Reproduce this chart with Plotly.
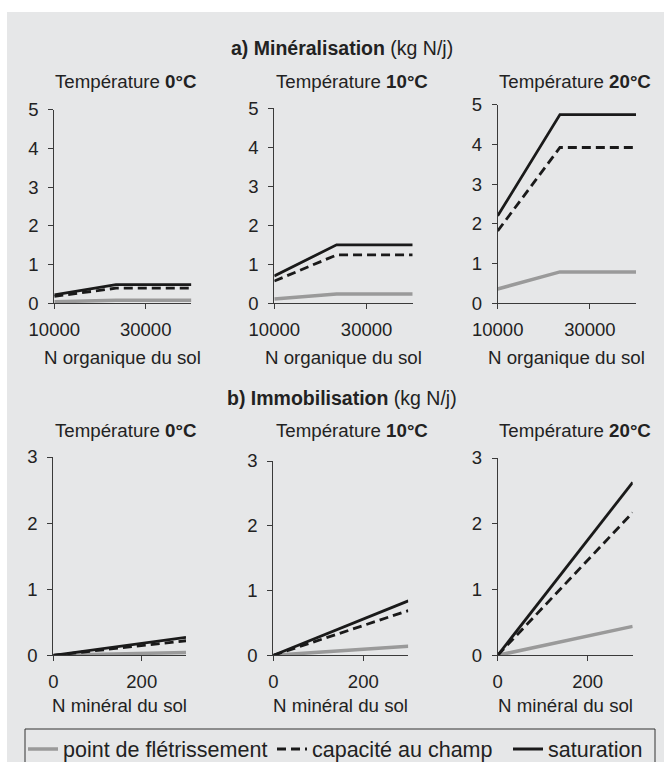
import plotly.graph_objects as go

# ---------------- data ----------------
temps = ["0°C", "10°C", "20°C"]

# a) Minéralisation (kg N/j) vs N organique du sol
x_org = [10000, 23500, 40000]
min_wilt_0 = [0.04, 0.08, 0.08]
min_cap_0 = [0.18, 0.39, 0.39]
min_sat_0 = [0.22, 0.48, 0.48]
min_wilt_10 = [0.11, 0.24, 0.24]
min_cap_10 = [0.57, 1.24, 1.24]
min_sat_10 = [0.70, 1.50, 1.50]
min_wilt_20 = [0.36, 0.79, 0.79]
min_cap_20 = [1.82, 3.92, 3.92]
min_sat_20 = [2.20, 4.75, 4.75]

# b) Immobilisation (kg N/j) vs N minéral du sol
x_min = [0, 300]
imm_wilt_0 = [0, 0.044]
imm_cap_0 = [0, 0.22]
imm_sat_0 = [0, 0.27]
imm_wilt_10 = [0, 0.14]
imm_cap_10 = [0, 0.69]
imm_sat_10 = [0, 0.84]
imm_wilt_20 = [0, 0.44]
imm_cap_20 = [0, 2.17]
imm_sat_20 = [0, 2.63]

series_names = ["point de flétrissement", "capacité au champ", "saturation"]

top_x_ticks = [10000, 30000]
bot_x_ticks = [0, 200]
top_y_ticks = [0, 1, 2, 3, 4, 5]
bot_y_ticks = [0, 1, 2, 3]

# ---------------- layout helpers ----------------
W, H = 664, 762
FONT = "Liberation Sans, Arial, sans-serif"
TXT = "#222222"
AX = "#3a3a3a"
BG = "#e6e7e8"


def fx(px):
    return px / W


def fy(py):
    return 1 - py / H


# pixel boxes: (x_left, x_right, y_top, y_bottom)
boxes = [
    (54.3, 191.4, 109.6, 303.3),
    (274.3, 412.7, 108.3, 303.3),
    (497.7, 636.0, 104.6, 303.3),
    (53.3, 186.0, 457.0, 655.3),
    (273.3, 408.3, 461.0, 655.3),
    (497.7, 632.7, 458.0, 655.3),
]

styles = [
    dict(color="#9a9a9a", width=3.5, dash="solid"),
    dict(color="#1a1a1a", width=2.8, dash="9px,5px"),
    dict(color="#1a1a1a", width=2.8, dash="solid"),
]
legend_ids = ["legend", "legend2", "legend3"]
legend_x_px = [23, 272, 508]

panels = [
    (x_org, [min_wilt_0, min_cap_0, min_sat_0]),
    (x_org, [min_wilt_10, min_cap_10, min_sat_10]),
    (x_org, [min_wilt_20, min_cap_20, min_sat_20]),
    (x_min, [imm_wilt_0, imm_cap_0, imm_sat_0]),
    (x_min, [imm_wilt_10, imm_cap_10, imm_sat_10]),
    (x_min, [imm_wilt_20, imm_cap_20, imm_sat_20]),
]

fig = go.Figure()

for i, (xs, ys_list) in enumerate(panels):
    suffix = "" if i == 0 else str(i + 1)
    for j, ys in enumerate(ys_list):
        fig.add_trace(go.Scatter(
            x=xs, y=ys, mode="lines",
            line=styles[j],
            name=series_names[j],
            legendgroup=series_names[j],
            legend=legend_ids[j],
            showlegend=(i == 0),
            xaxis="x" + suffix, yaxis="y" + suffix,
            hoverinfo="x+y+name",
        ))

layout_axes = {}
for i, (xl, xr, yt, yb) in enumerate(boxes):
    suffix = "" if i == 0 else str(i + 1)
    top = i < 3
    layout_axes["xaxis" + suffix] = dict(
        domain=[fx(xl), fx(xr)],
        anchor="y" + suffix,
        range=[10000, 40000] if top else [0, 300],
        tickvals=top_x_ticks if top else bot_x_ticks,
        tickformat="d",
        showline=True, linecolor=AX, linewidth=1,
        ticks="outside", ticklen=5, tickcolor=AX, tickwidth=1,
        showgrid=False, zeroline=False,
        ticklabelstandoff=4,
        automargin=False,
        tickfont=dict(family=FONT, size=18.5, color=TXT),
        fixedrange=True,
    )
    layout_axes["yaxis" + suffix] = dict(
        domain=[fy(yb), fy(yt)],
        anchor="x" + suffix,
        range=[0, 5] if top else [0, 3],
        tickvals=top_y_ticks if top else bot_y_ticks,
        showline=True, linecolor=AX, linewidth=1,
        ticks="outside", ticklen=5, tickcolor=AX, tickwidth=1,
        showgrid=False, zeroline=False,
        ticklabelstandoff=6,
        automargin=False,
        tickfont=dict(family=FONT, size=18.5, color=TXT),
        fixedrange=True,
    )

annotations = []


def add_text(text, x, y, size):
    annotations.append(dict(
        text=text, x=fx(x), y=fy(y), xref="paper", yref="paper",
        xanchor="center", yanchor="middle", showarrow=False,
        font=dict(family=FONT, size=size, color=TXT),
    ))


add_text("<b>a) Minéralisation</b> (kg N/j)", 342, 48, 19.5)
add_text("<b>b) Immobilisation</b> (kg N/j)", 342, 398, 19.5)

sub_x = [125, 352, 575]
for k, t in enumerate(temps):
    add_text(f"Température <b>{t}</b>", sub_x[k], 81, 18.7)
    add_text(f"Température <b>{t}</b>", sub_x[k], 431, 18.7)

for k in range(3):
    xl, xr, yt, yb = boxes[k]
    add_text("N organique du sol", (xl + xr) / 2, 357, 18.7)
for k in range(3, 6):
    xl, xr, yt, yb = boxes[k]
    add_text("N minéral du sol", (xl + xr) / 2, 705, 18.7)

shapes = [
    dict(type="rect", xref="paper", yref="paper",
         x0=fx(7), x1=1.01, y0=-0.05, y1=fy(12),
         fillcolor=BG, line=dict(width=0), layer="below"),
    dict(type="rect", xref="paper", yref="paper",
         x0=fx(25), x1=fx(655), y0=-0.05, y1=fy(729),
         fillcolor="rgba(0,0,0,0)", line=dict(color="#333333", width=1),
         layer="below"),
]

legends = {}
for lid, lx in zip(legend_ids, legend_x_px):
    legends[lid] = dict(
        orientation="h",
        x=fx(lx), xanchor="left",
        y=fy(749), yanchor="middle",
        bgcolor="rgba(0,0,0,0)",
        borderwidth=0,
        font=dict(family=FONT, size=21.5, color=TXT),
        itemwidth=30,
    )

fig.update_layout(
    width=W, height=H,
    margin=dict(l=0, r=0, t=0, b=0, autoexpand=False),
    paper_bgcolor="white",
    plot_bgcolor="rgba(0,0,0,0)",
    font=dict(family=FONT, size=18.5, color=TXT),
    showlegend=True,
    annotations=annotations,
    shapes=shapes,
    **legends,
    **layout_axes,
)

fig.write_html("out.html")
